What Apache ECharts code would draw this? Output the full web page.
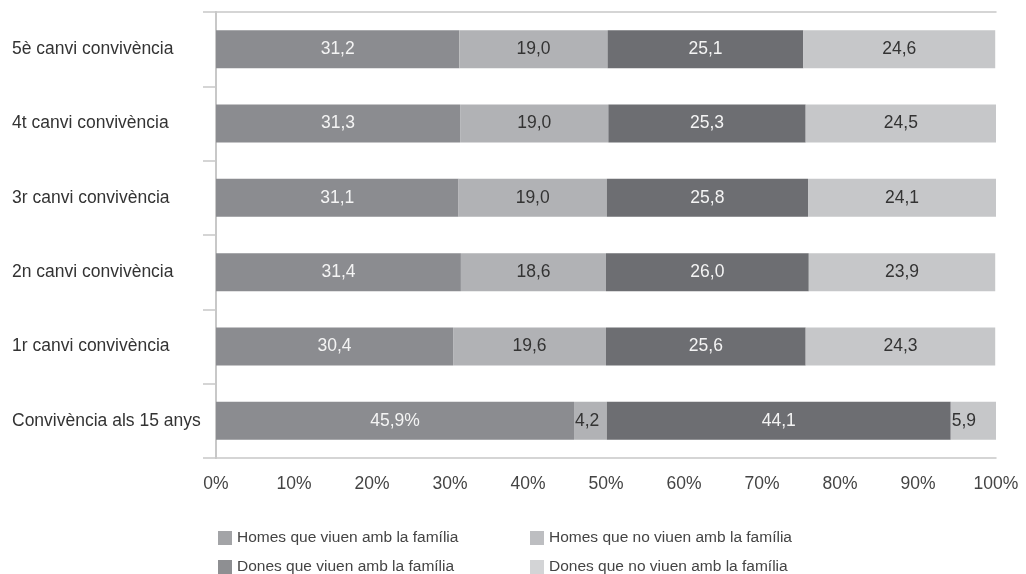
<!DOCTYPE html>
<html>
<head>
<meta charset="utf-8">
<script src="https://cdn.jsdelivr.net/npm/echarts@6/dist/echarts.min.js"></script>
<style>
  html, body { margin: 0; padding: 0; background: #fff; }
  #chart { width: 1026px; height: 574px; }
</style>
</head>
<body>
<div id="chart"></div>
<script>
// categories from bottom to top
const categories = [
  'Convivència als 15 anys',
  '1r canvi convivència',
  '2n canvi convivència',
  '3r canvi convivència',
  '4t canvi convivència',
  '5è canvi convivència'
]
const homesAmb = [45.9, 30.4, 31.4, 31.1, 31.3, 31.2]
const homesNo = [4.2, 19.6, 18.6, 19.0, 19.0, 19.0]
const donesAmb = [44.1, 25.6, 26.0, 25.8, 25.3, 25.1]
const donesNo = [5.9, 24.3, 23.9, 24.1, 24.5, 24.6]
const xTicks = [0, 10, 20, 30, 40, 50, 60, 70, 80, 90, 100]

const seriesNames = [
  'Homes que viuen amb la família',
  'Homes que no viuen amb la família',
  'Dones que viuen amb la família',
  'Dones que no viuen amb la família'
]
const barColors = ['#8b8c90', '#b1b2b5', '#6d6e72', '#c6c7c9']
const legendColors = ['#a3a4a7', '#bdbec1', '#8e8f92', '#d3d4d6']
const labelColors = ['#f4f4f4', '#333', '#f4f4f4', '#333']

const font = '"Liberation Sans", Arial, sans-serif'
const fmt = v => v.toFixed(1).replace('.', ',')

const chart = echarts.init(document.getElementById('chart'))

const makeSeries = (idx, values) => ({
  name: seriesNames[idx],
  type: 'bar',
  stack: 'total',
  barWidth: 38,
  data: values.map((v, i) => {
    const item = { value: v }
    if (v < 10) {
      item.label = { position: 'insideLeft', distance: 1 }
    }
    return item
  }),
  itemStyle: { color: barColors[idx] },
  label: {
    show: true,
    position: 'inside',
    color: labelColors[idx],
    fontFamily: font,
    fontSize: 17.5,
    formatter: p => (idx === 0 && p.dataIndex === 0) ? fmt(p.value) + '%' : fmt(p.value)
  },
  emphasis: { disabled: true }
})

// one legend box per item so that they sit in a 2x2 grid
const legendPos = [[218, 530], [530, 530], [218, 559], [530, 559]]
const legends = legendPos.map((pos, i) => ({
  left: pos[0],
  top: pos[1],
  padding: 0,
  itemWidth: 14,
  itemHeight: 14,
  icon: 'rect',
  selectedMode: false,
  textStyle: { fontSize: 15.5, color: '#444', fontFamily: font },
  data: [{ name: seriesNames[i], itemStyle: { color: legendColors[i] } }]
}))

chart.setOption({
  animation: false,
  textStyle: { fontFamily: font },
  grid: { left: 216, right: 30, top: 12, bottom: 116 },
  legend: legends,
  xAxis: [
    {
      type: 'value',
      min: xTicks[0],
      max: xTicks[xTicks.length - 1],
      interval: 10,
      axisLine: { show: true, lineStyle: { color: '#c8c8c8', width: 1.5 } },
      axisTick: { show: false },
      splitLine: { show: false },
      axisLabel: {
        margin: 17,
        fontSize: 17.5,
        color: '#444',
        formatter: '{value}%'
      }
    },
    {
      type: 'value',
      position: 'top',
      min: 0,
      max: 100,
      axisLine: { show: true, lineStyle: { color: '#c8c8c8', width: 1.5 } },
      axisTick: { show: false },
      axisLabel: { show: false },
      splitLine: { show: false }
    }
  ],
  yAxis: {
    type: 'category',
    data: categories,
    axisLine: { show: true, lineStyle: { color: '#c8c8c8', width: 2 } },
    axisTick: { show: true, length: 13, lineStyle: { color: '#c8c8c8', width: 1.5 } },
    axisLabel: {
      align: 'left',
      margin: 204,
      fontSize: 17.5,
      color: '#333'
    }
  },
  series: [
    makeSeries(0, homesAmb),
    makeSeries(1, homesNo),
    makeSeries(2, donesAmb),
    makeSeries(3, donesNo)
  ]
})
</script>
</body>
</html>
